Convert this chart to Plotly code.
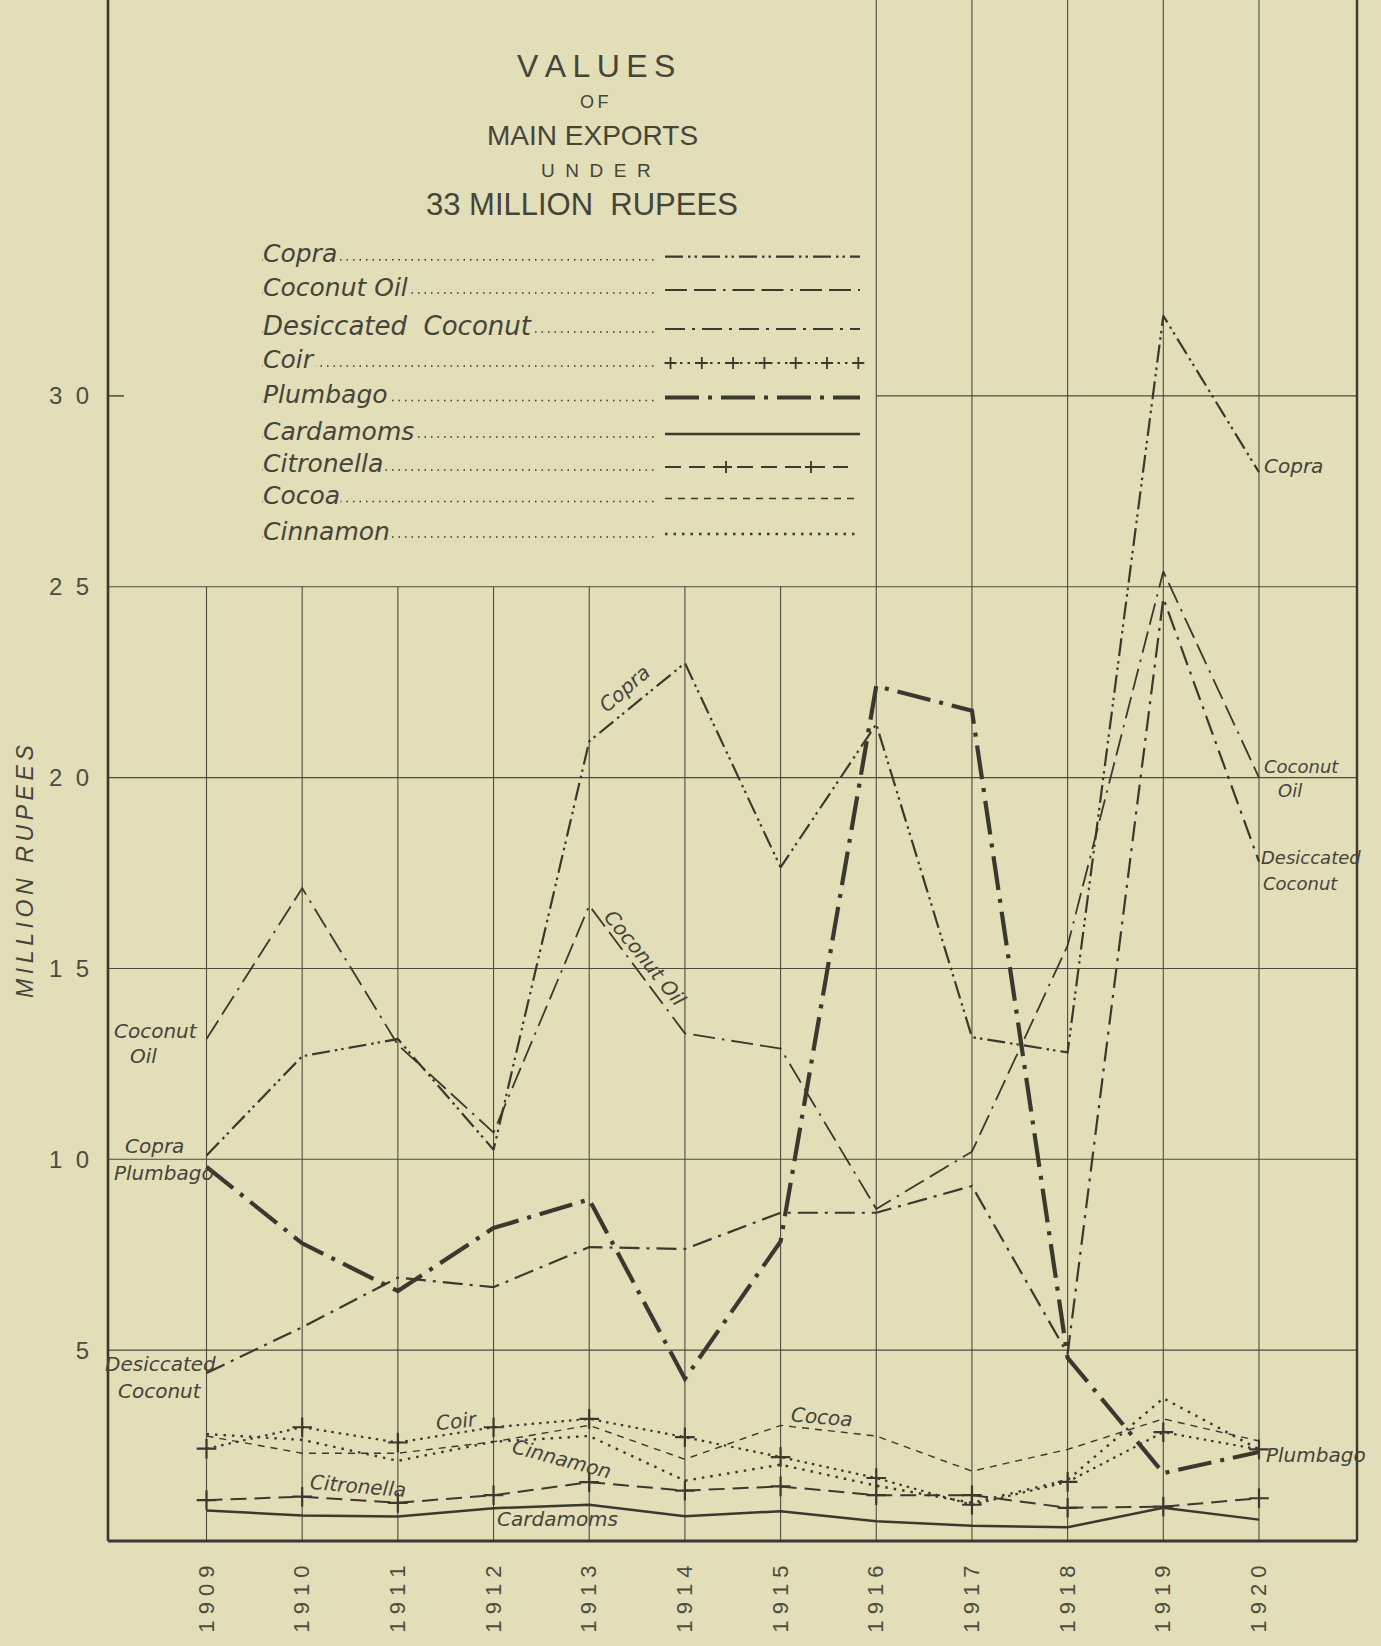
import plotly.graph_objects as go

# ---------------- data ----------------
years = [1909, 1910, 1911, 1912, 1913, 1914, 1915, 1916, 1917, 1918, 1919, 1920]
year_ticktext = ["1 9 0 9", "1 9 1 0", "1 9 1 1", "1 9 1 2", "1 9 1 3", "1 9 1 4",
                 "1 9 1 5", "1 9 1 6", "1 9 1 7", "1 9 1 8", "1 9 1 9", "1 9 2 0"]
y_tickvals = [5, 10, 15, 20, 25, 30]
y_ticktext = ["5", "1  0", "1  5", "2  0", "2  5", "3  0"]

copra = [10.1, 12.7, 13.15, 10.25, 20.95, 23.0, 17.65, 21.4, 13.2, 12.8, 32.1, 28.0]
coconut_oil = [13.15, 17.1, 13.0, 10.7, 16.65, 13.3, 12.9, 8.7, 10.2, 15.6, 25.4, 20.0]
desiccated_coconut = [4.4, 5.6, 6.9, 6.65, 7.7, 7.65, 8.6, 8.6, 9.3, 4.9, 24.7, 17.8]
coir = [2.42, 2.98, 2.58, 2.98, 3.2, 2.72, 2.2, 1.65, 0.95, 1.55, 2.85, 2.4]
plumbago = [9.8, 7.8, 6.55, 8.2, 8.95, 4.25, 7.85, 22.4, 21.75, 4.8, 1.78, 2.33]
cardamoms = [0.8, 0.67, 0.64, 0.86, 0.95, 0.65, 0.78, 0.52, 0.4, 0.36, 0.87, 0.56]
citronella = [1.07, 1.16, 1.0, 1.2, 1.54, 1.32, 1.43, 1.2, 1.2, 0.87, 0.9, 1.12]
cocoa = [2.75, 2.3, 2.3, 2.6, 3.03, 2.14, 3.03, 2.75, 1.83, 2.4, 3.2, 2.62]
cinnamon = [2.8, 2.65, 2.1, 2.6, 2.75, 1.58, 2.0, 1.45, 1.0, 1.6, 3.74, 2.4]

series_names = ["Copra", "Coconut Oil", "Desiccated  Coconut", "Coir", "Plumbago",
                "Cardamoms", "Citronella", "Cocoa", "Cinnamon"]
series_values = [copra, coconut_oil, desiccated_coconut, coir, plumbago,
                 cardamoms, citronella, cocoa, cinnamon]

# ---------------- styling / layout ----------------
BG = "#e2deb8"
INK = "#3a392f"
TXT = "#45443a"
GRID = "#4d4c41"

FIG_W, FIG_H = 1381, 1646
PLOT_L, PLOT_R, PLOT_B = 108, 1357, 1541
YEAR0_PX, PX_PER_YEAR, PX_PER_UNIT = 206.5, 95.68, 38.17
x_range = [1909 - (YEAR0_PX - PLOT_L) / PX_PER_YEAR, 1909 + (PLOT_R - YEAR0_PX) / PX_PER_YEAR]
y_range = [0, PLOT_B / PX_PER_UNIT]


def pxx(x):
    return (x - PLOT_L) / (PLOT_R - PLOT_L)


def pxy(y):
    return (PLOT_B - y) / PLOT_B


styles = [
    dict(width=2.2, dash="18px,5px,2.5px,4px,2.5px,5px"),       # Copra
    dict(width=1.8, dash="22px,7px,22px,7px,2.5px,7px"),        # Coconut oil
    dict(width=2.2, dash="20px,7px,3px,7px"),                   # Desiccated
    dict(width=2.2, dash="2.5px,5px"),                          # Coir
    dict(width=4.2, dash="34px,9px,4px,9px"),                   # Plumbago
    dict(width=2.5, dash="solid"),                              # Cardamoms
    dict(width=2.0, dash="16px,8px"),                           # Citronella
    dict(width=1.4, dash="7px,6px"),                            # Cocoa
    dict(width=2.4, dash="2.5px,6px"),                          # Cinnamon
]
with_cross = [False, False, False, True, False, False, True, False, False]

fig = go.Figure()
for name, vals, st, cr in zip(series_names, series_values, styles, with_cross):
    fig.add_trace(go.Scatter(
        x=years, y=vals, name=name.replace("  ", " "),
        mode="lines+markers" if cr else "lines",
        line=dict(color=INK, width=st["width"], dash=st["dash"]),
        marker=dict(symbol="cross-thin", size=14, color=INK,
                    line=dict(width=2.2, color=INK)) if cr else None,
        showlegend=False, hoverinfo="x+y+name",
    ))

shapes = []
# horizontal grid lines
for v in [5, 10, 15, 20, 25]:
    shapes.append(dict(type="line", xref="paper", yref="y", x0=0, x1=1, y0=v, y1=v,
                       line=dict(color=GRID, width=1.1), layer="below"))
shapes.append(dict(type="line", xref="x", yref="y", x0=1916, x1=x_range[1], y0=30, y1=30,
                   line=dict(color=GRID, width=1.1), layer="below"))
shapes.append(dict(type="line", xref="paper", yref="y", x0=0, x1=pxx(124), y0=30, y1=30,
                   line=dict(color=GRID, width=1.5), layer="below"))
# vertical grid lines
for yr in years:
    if yr <= 1915:
        shapes.append(dict(type="line", xref="x", yref="y", x0=yr, x1=yr, y0=0, y1=25,
                           line=dict(color=GRID, width=1.1), layer="below"))
    else:
        shapes.append(dict(type="line", xref="x", yref="paper", x0=yr, x1=yr, y0=0, y1=1,
                           line=dict(color=GRID, width=1.1), layer="below"))
# frame
shapes.append(dict(type="line", xref="paper", yref="paper", x0=0, x1=0, y0=0, y1=1,
                   line=dict(color=INK, width=2.6)))
shapes.append(dict(type="line", xref="paper", yref="paper", x0=1, x1=1, y0=0, y1=1,
                   line=dict(color=INK, width=2.4)))
shapes.append(dict(type="line", xref="paper", yref="paper", x0=0, x1=1, y0=0, y1=0,
                   line=dict(color=INK, width=3)))

annotations = []


def txt(x, y, text, size, xanchor="center", yanchor="middle", angle=0, family="DejaVu Sans",
        italic=True, color=TXT, bg=None):
    t = "<i>%s</i>" % text if italic else text
    a = dict(xref="paper", yref="paper", x=pxx(x), y=pxy(y), text=t, showarrow=False,
             xanchor=xanchor, yanchor=yanchor, textangle=angle,
             font=dict(family=family, size=size, color=color))
    if bg:
        a["bgcolor"] = bg
        a["borderpad"] = 0
    annotations.append(a)


# title block
TF = "Liberation Sans"
txt(596, 66, "V\u2009A\u2009L\u2009U\u2009E\u2009S", 32, family=TF, italic=False)
txt(594, 102, "O\u2009F", 18, family=TF, italic=False)
txt(592, 136, "MAIN EXPORTS", 28, family=TF, italic=False)
txt(596, 171, "U  N  D  E  R", 19, family=TF, italic=False)
txt(582, 204, "33 MILLION  RUPEES", 31, family=TF, italic=False)

# legend
legend_rows_y = [256.7, 290, 329, 363, 397.5, 434, 467, 498.5, 534]
for name, st, ly in zip(series_names, styles, legend_rows_y):
    shapes.append(dict(type="line", xref="paper", yref="paper",
                       x0=pxx(262), x1=pxx(656), y0=pxy(ly + 3), y1=pxy(ly + 3),
                       line=dict(color=INK, width=1.5, dash="1.5px,5px")))
    x1 = 848 if name == "Citronella" else 860
    shapes.append(dict(type="line", xref="paper", yref="paper",
                       x0=pxx(665), x1=pxx(x1), y0=pxy(ly), y1=pxy(ly),
                       line=dict(color=INK, width=st["width"], dash=st["dash"])))
    size = 26 if name.startswith("Desiccated") else 25
    txt(262, ly - 3, name, size, xanchor="left", bg=BG)


def cross_path(cx, cy, h):
    return "M %f,%f L %f,%f M %f,%f L %f,%f" % (
        pxx(cx - h), pxy(cy), pxx(cx + h), pxy(cy), pxx(cx), pxy(cy - h), pxx(cx), pxy(cy + h))


coir_y = legend_rows_y[3]
for i in range(7):
    shapes.append(dict(type="path", xref="paper", yref="paper",
                       path=cross_path(670.5 + i * 31.3, coir_y, 6),
                       line=dict(color=INK, width=1.8)))
cit_y = legend_rows_y[6]
for cx in (726, 811):
    shapes.append(dict(type="path", xref="paper", yref="paper",
                       path=cross_path(cx, cit_y, 6), line=dict(color=INK, width=1.8)))

# inline labels
LS = 20
txt(156, 1031, "Coconut", LS)
txt(143, 1056, "Oil", LS)
txt(154, 1146, "Copra", LS)
txt(164, 1173, "Plumbago", LS)
txt(160, 1364, "Desiccated", LS)
txt(160, 1391, "Coconut", LS)
txt(624, 689, "Copra", LS, angle=-41)
txt(645, 958, "Coconut Oil", LS, angle=51)
txt(1262, 466, "Copra", LS, xanchor="left")
txt(1262, 766, "Coconut", 18, xanchor="left")
txt(1276, 791, "Oil", 18, xanchor="left")
txt(1259, 858, "Desiccated", 18, xanchor="left")
txt(1261, 883, "Coconut", 18, xanchor="left")
txt(1264, 1455, "Plumbago", LS, xanchor="left")
txt(457, 1421, "Coir", LS, angle=-6)
txt(358, 1486, "Citronella", LS, angle=5)
txt(562, 1459, "Cinnamon", LS, angle=15)
txt(557, 1519, "Cardamoms", LS)
txt(822, 1417, "Cocoa", LS, angle=5)

# y-axis title
txt(25, 871, "M\u2009I\u2009L\u2009L\u2009I\u2009O\u2009N\u2009 \u2009R\u2009U\u2009P\u2009E\u2009E\u2009S",
    23, angle=-90, family=TF)

fig.update_layout(
    width=FIG_W, height=FIG_H,
    margin=dict(l=PLOT_L, r=FIG_W - PLOT_R, t=0, b=FIG_H - PLOT_B),
    paper_bgcolor=BG, plot_bgcolor=BG,
    shapes=shapes, annotations=annotations, showlegend=False,
    xaxis=dict(range=x_range, tickvals=years, ticktext=year_ticktext, tickangle=-90,
               showgrid=False, zeroline=False, showline=False, ticks="",
               ticklabelstandoff=19,
               tickfont=dict(family=TF, size=22, color="#4d4c42")),
    yaxis=dict(range=y_range, tickvals=y_tickvals, ticktext=y_ticktext,
               showgrid=False, zeroline=False, showline=False, ticks="",
               ticklabelstandoff=18,
               tickfont=dict(family=TF, size=24, color="#4d4c42")),
)

fig.write_html("out.html", config={"displayModeBar": False},
               post_script="document.body.style.margin='0';")
